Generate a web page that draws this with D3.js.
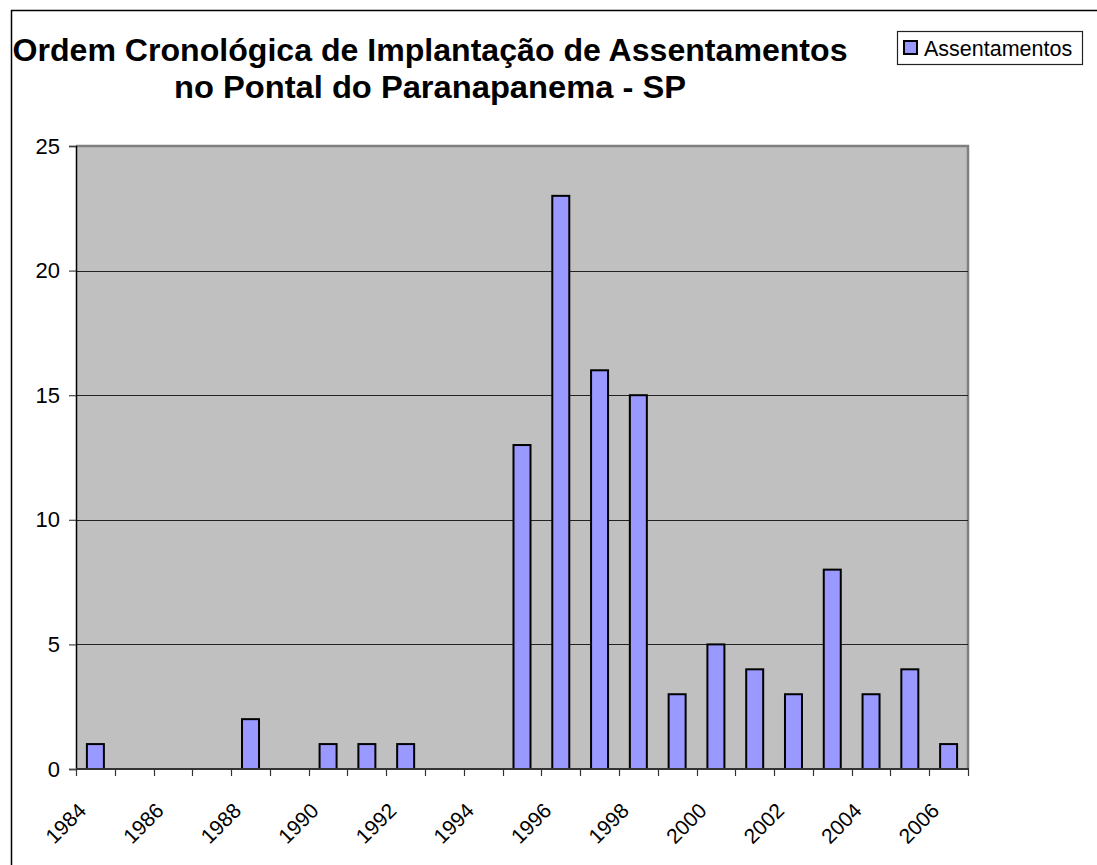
<!DOCTYPE html>
<html>
<head>
<meta charset="utf-8">
<script src="https://cdn.jsdelivr.net/npm/d3@7"></script>
<style>
  html, body { margin: 0; padding: 0; background: #fff; }
  svg { display: block; font-family: "Liberation Sans", Arial, sans-serif; }
</style>
</head>
<body>
<div class="chart"></div>
<script>
const years = ["1984", "1985", "1986", "1987", "1988", "1989", "1990", "1991", "1992", "1993", "1994", "1995",
  "1996", "1997", "1998", "1999", "2000", "2001", "2002", "2003", "2004", "2005", "2006"];
const assentamentos = [1, 0, 0, 0, 2, 0, 1, 1, 1, 0, 0, 13, 23, 16, 15, 3, 5, 4, 3, 8, 3, 4, 1];
const xTickLabels = ["1984", "1986", "1988", "1990", "1992", "1994", "1996", "1998", "2000", "2002", "2004", "2006"];
const yTicks = [0, 5, 10, 15, 20, 25];
const titleLines = ["Ordem Cronológica de Implantação de Assentamentos", "no Pontal do Paranapanema - SP"];
const seriesName = "Assentamentos";

const W = 1097, H = 865;
const plot = {left: 76, top: 146, right: 968, bottom: 769};

let svg = d3.select('.chart')
  .append('svg')
  .attr('width', W)
  .attr('height', H);

// outer chart frame (runs off the right and bottom of the picture)
svg.append('rect')
  .attr('x', 11.5).attr('y', 10.5)
  .attr('width', W + 20).attr('height', H + 20)
  .attr('fill', '#fff')
  .attr('stroke', '#000')
  .attr('stroke-width', 1.5);

// title
svg.append('g')
  .selectAll('text')
  .data(titleLines)
  .enter()
  .append('text')
  .attr('x', 430)
  .attr('y', (d, i) => 60.5 + i * 37)
  .attr('text-anchor', 'middle')
  .style('font-size', '31px')
  .style('font-weight', 'bold')
  .attr('textLength', (d, i) => i === 0 ? 835 : 512)
  .attr('lengthAdjust', 'spacingAndGlyphs')
  .text(d => d);

// scales
let xScale = d3.scaleBand()
  .domain(years)
  .range([plot.left, plot.right])
  .padding(0);

let yScale = d3.scaleLinear()
  .domain([0, 25])
  .range([plot.bottom, plot.top]);

// plot area
svg.append('rect')
  .attr('x', plot.left)
  .attr('y', plot.top)
  .attr('width', plot.right - plot.left)
  .attr('height', plot.bottom - plot.top)
  .attr('fill', '#c0c0c0');

svg.append('path')
  .attr('d', `M${plot.left},${plot.top}H${plot.right}V${plot.bottom}`)
  .attr('fill', 'none')
  .attr('stroke', '#808080')
  .attr('stroke-width', 2.5);

// gridlines
svg.append('g')
  .selectAll('line')
  .data(yTicks.filter(d => d > 0 && d < 25))
  .enter()
  .append('line')
  .attr('x1', plot.left)
  .attr('x2', plot.right)
  .attr('y1', d => Math.round(yScale(d)) + 0.5)
  .attr('y2', d => Math.round(yScale(d)) + 0.5)
  .attr('stroke', '#222')
  .attr('stroke-width', 1.2);

// bars
const barW = 17;
svg.append('g')
  .selectAll('rect')
  .data(years.map((y, i) => ({year: y, value: assentamentos[i]})).filter(d => d.value > 0))
  .enter()
  .append('rect')
  .attr('x', d => xScale(d.year) + (xScale.bandwidth() - barW) / 2)
  .attr('y', d => yScale(d.value))
  .attr('width', barW)
  .attr('height', d => yScale(0) - yScale(d.value))
  .attr('fill', '#9999ff')
  .attr('stroke', '#000')
  .attr('stroke-width', 2);

// y axis
let yAxis = d3.axisLeft(yScale)
  .tickValues(yTicks)
  .tickSize(7)
  .tickPadding(9)
  .tickFormat(d3.format('d'));

let yG = svg.append('g')
  .attr('transform', `translate(${plot.left},0)`)
  .call(yAxis);
yG.select('.domain').attr('stroke', '#000').attr('stroke-width', 1.5);
yG.selectAll('.tick line').attr('stroke', '#444').attr('stroke-width', 1.2);
yG.selectAll('text')
  .style('font-size', '22px')
  .style('font-family', '"Liberation Sans", Arial, sans-serif')
  .attr('fill', '#000');

// x axis: ticks at category boundaries
const boundaries = years.map(y => xScale(y)).concat([plot.right]);
svg.append('g')
  .selectAll('line')
  .data(boundaries)
  .enter()
  .append('line')
  .attr('x1', d => Math.round(d) + 0.5)
  .attr('x2', d => Math.round(d) + 0.5)
  .attr('y1', plot.bottom)
  .attr('y2', plot.bottom + 7)
  .attr('stroke', '#333')
  .attr('stroke-width', 1.2);

svg.append('line')
  .attr('x1', plot.left)
  .attr('x2', plot.right + 1)
  .attr('y1', plot.bottom)
  .attr('y2', plot.bottom)
  .attr('stroke', '#333')
  .attr('stroke-width', 2);

svg.append('g')
  .selectAll('text')
  .data(xTickLabels)
  .enter()
  .append('text')
  .attr('transform', d => `translate(${xScale(d) + xScale.bandwidth() / 2 - 8},812) rotate(-45)`)
  .attr('text-anchor', 'end')
  .style('font-size', '21px')
  .text(d => d);

// legend
let legend = svg.append('g');
legend.append('rect')
  .attr('x', 897.5).attr('y', 31.5)
  .attr('width', 185).attr('height', 33)
  .attr('fill', '#fff')
  .attr('stroke', '#222')
  .attr('stroke-width', 1.2);
legend.append('rect')
  .attr('x', 904).attr('y', 41)
  .attr('width', 13).attr('height', 13)
  .attr('fill', '#9999ff')
  .attr('stroke', '#000')
  .attr('stroke-width', 2);
legend.append('text')
  .attr('x', 924)
  .attr('y', 55.5)
  .style('font-size', '21.5px')
  .text(seriesName);
</script>
</body>
</html>
